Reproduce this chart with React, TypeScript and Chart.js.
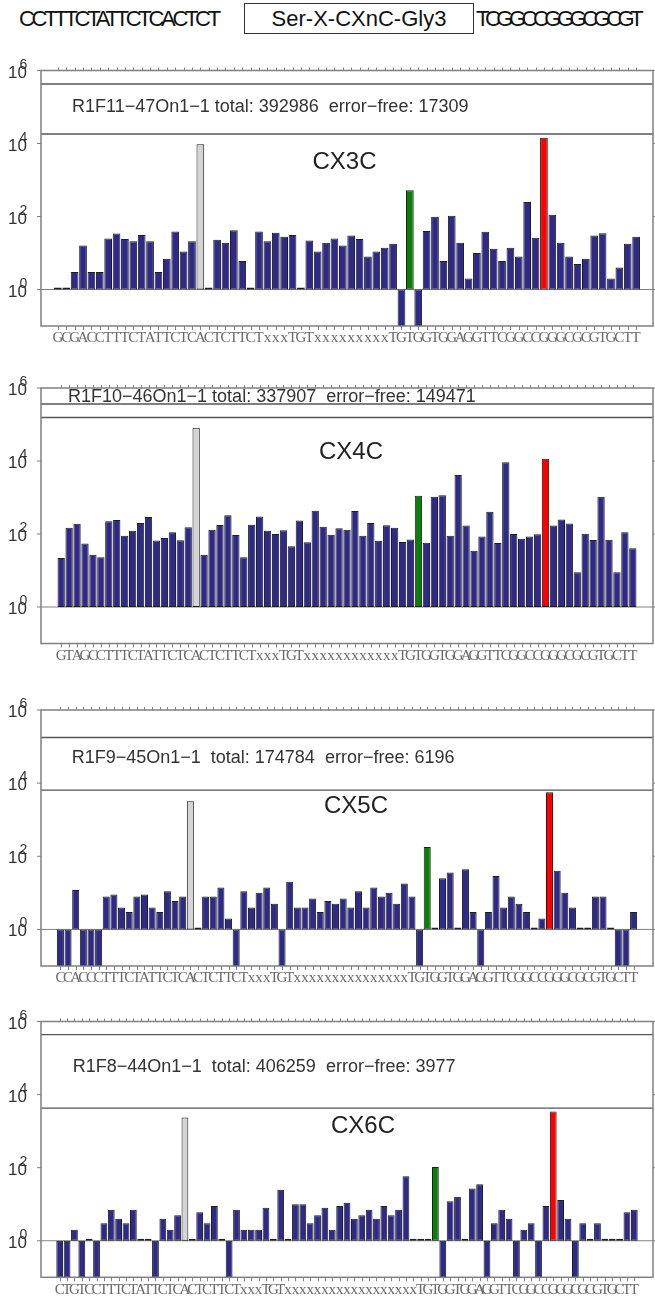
import React, { useEffect, useRef } from 'react';
import { Chart, registerables } from 'chart.js';

Chart.register(...registerables);

// ---------- data ----------
const HEADER_LEFT = 'CCTTTCTATTCTCACTCT';
const HEADER_BOX = 'Ser-X-CXnC-Gly3';
const HEADER_RIGHT = 'TCGGCCGGGCGCGT';

const Y_TICK_EXPONENTS = [0, 2, 4, 6];

const SEQ_CX3C = 'GCGACCTTTCTATTCTCACTCTTCTxxxTGTxxxxxxxxxTGTGGTGGAGGTTCGGCCGGGCGCGTGCTT';
const COUNTS_CX3C = [
  1, 1, 3, 16, 3, 3, 25, 34, 24, 21, 31, 21, 3, 7, 39, 11, 21, 9500, 1, 23,
  19, 42, 6, 1, 39, 21, 36, 28, 31, 1, 22, 11, 19, 25, 16, 30, 24, 8, 11, 14,
  18, 0, 525, 0, 40, 98, 6, 105, 19, 2, 10, 38, 13, 6, 14, 8, 250, 26, 14400, 112,
  19, 8, 5, 7, 30, 35, 2, 4, 18, 28,
];

const SEQ_CX4C = 'GTAGCCTTTCTATTCTCACTCTTCTxxxTGTxxxxxxxxxxxxTGTGGTGGAGGTTCGGCCGGGCGCGTGCTT';
const COUNTS_CX4C = [
  22, 148, 191, 55, 27, 23, 225, 240, 90, 123, 200, 290, 66, 78, 111, 67, 152, 81000, 27, 131,
  176, 324, 94, 23, 180, 302, 123, 100, 126, 46, 235, 59, 433, 158, 96, 143, 131, 426, 90, 200,
  65, 173, 148, 60, 71, 1110, 58, 1045, 1150, 90, 4150, 170, 35, 85, 408, 57, 9200, 100, 74, 85,
  98, 11600, 170, 250, 195, 9, 102, 69, 1045, 70, 9, 111, 41,
];

const SEQ_CX5C = 'CCACCCTTTCTATTCTCACTCTTCTxxxTGTxxxxxxxxxxxxxxxTGTGGTGGAGGTTCGGCCGGGCGCGTGCTT';
const COUNTS_CX5C = [
  0, 0, 12, 0, 0, 0, 8, 9, 4, 3, 8, 9, 4, 3, 11, 6, 8, 3200, 1, 8,
  8, 14, 2, 0, 11, 4, 10, 14, 5, 0, 20, 4, 4, 7, 3, 6, 5, 7, 4, 11,
  4, 14, 8, 10, 5, 18, 8, 0, 180, 1, 25, 36, 1, 44, 3, 0, 3, 29, 4, 8,
  5, 3, 1, 2, 5600, 40, 10, 4, 1, 1, 8, 8, 1, 0, 0, 3,
];

const SEQ_CX6C = 'CTGTCCTTTCTATTCTCACTCTTCTxxxTGTxxxxxxxxxxxxxxxxxxTGTGGTGGAGGTTCGGCCGGGCGCGTGCTT';
const COUNTS_CX6C = [
  0, 0, 2, 0, 1, 0, 3, 7, 4, 3, 7, 1, 1, 0, 4, 2, 5, 2350, 1, 6,
  3, 9, 1, 0, 7, 2, 2, 2, 8, 1, 25, 1, 10, 10, 3, 5, 8, 2, 9, 11,
  4, 5, 7, 4, 9, 5, 7, 58, 1, 1, 1, 104, 0, 12, 16, 1, 27, 35, 0, 3,
  7, 4, 0, 2, 3, 0, 9, 3450, 13, 4, 0, 3, 1, 3, 1, 1, 1, 6, 7,
];

const INFO_TEXTS = [
  'R1F11\u221247On1\u22121 total: 392986  error\u2212free: 17309',
  'R1F10\u221246On1\u22121 total: 337907  error\u2212free: 149471',
  'R1F9\u221245On1\u22121  total: 174784  error\u2212free: 6196',
  'R1F8\u221244On1\u22121  total: 406259  error\u2212free: 3977',
];
const PANEL_NAMES = ['CX3C', 'CX4C', 'CX5C', 'CX6C'];

// ---------- styles / layout ----------
const NAVY = '#2f2a88';
const GRAY = '#d4d4d4';
const GREEN = '#0a800a';
const RED = '#ff0000';
const SANS = '"Liberation Sans", Arial, Helvetica, sans-serif';
const SERIF = '"Liberation Serif", "Times New Roman", serif';

type PanelCfg = {
  name: string; seq: string; counts: number[]; info: string;
  gray: number; green: number; red: number;
  canvasTop: number; canvasBottom: number; areaTop: number; areaBottom: number;
  boxLines: number[]; infoY: number; infoDx: number; labelDx: number; labelY: number;
};

const PANELS: PanelCfg[] = [
  { name: PANEL_NAMES[0], seq: SEQ_CX3C, counts: COUNTS_CX3C, info: INFO_TEXTS[0], gray: 17, green: 42, red: 58,
    canvasTop: 48, canvasBottom: 352, areaTop: 70.5, areaBottom: 326,
    boxLines: [5.63, 4.26], infoY: 4.99, infoDx: 31, labelDx: 303.5, labelY: 3.47 },
  { name: PANEL_NAMES[1], seq: SEQ_CX4C, counts: COUNTS_CX4C, info: INFO_TEXTS[1], gray: 17, green: 45, red: 61,
    canvasTop: 366, canvasBottom: 670, areaTop: 388, areaBottom: 643.5,
    boxLines: [5.56, 5.19], infoY: 5.75, infoDx: 27, labelDx: 310, labelY: 4.25 },
  { name: PANEL_NAMES[2], seq: SEQ_CX5C, counts: COUNTS_CX5C, info: INFO_TEXTS[2], gray: 17, green: 48, red: 64,
    canvasTop: 688, canvasBottom: 992, areaTop: 710, areaBottom: 966,
    boxLines: [5.25, 3.81], infoY: 4.69, infoDx: 30.7, labelDx: 315, labelY: 3.36 },
  { name: PANEL_NAMES[3], seq: SEQ_CX6C, counts: COUNTS_CX6C, info: INFO_TEXTS[3], gray: 17, green: 51, red: 67,
    canvasTop: 999, canvasBottom: 1299, areaTop: 1021.5, areaBottom: 1277.3,
    boxLines: [5.64, 3.63], infoY: 4.76, infoDx: 31.7, labelDx: 322, labelY: 3.14 },
];

function makeDecor(p: PanelCfg) {
  return {
    id: 'decor',
    beforeDatasetsDraw(chart: any) {
      const { ctx, chartArea: a, scales } = chart;
      const y = scales.y;
      ctx.save();
      ctx.strokeStyle = '#808080';
      ctx.lineWidth = 1;
      const y0 = y.getPixelForValue(1);
      ctx.beginPath();
      ctx.moveTo(a.left, y0);
      ctx.lineTo(a.right, y0);
      ctx.stroke();
      ctx.strokeStyle = '#555555';
      ctx.lineWidth = 1.4;
      for (const e of p.boxLines) {
        const py = y.getPixelForValue(Math.pow(10, e));
        ctx.beginPath();
        ctx.moveTo(a.left, py);
        ctx.lineTo(a.right, py);
        ctx.stroke();
      }
      ctx.restore();
    },
    afterDraw(chart: any) {
      const { ctx, chartArea: a, scales } = chart;
      const x = scales.x;
      const y = scales.y;
      const n = p.counts.length;
      ctx.save();
      ctx.strokeStyle = '#808080';
      ctx.lineWidth = 1.5;
      ctx.strokeRect(a.left, a.top, a.right - a.left, a.bottom - a.top);
      ctx.lineWidth = 1;
      ctx.beginPath();
      for (let i = 0; i < n; i++) {
        const px = Math.round(x.getPixelForValue(i)) + 0.5;
        ctx.moveTo(px, a.bottom);
        ctx.lineTo(px, a.bottom + 4);
        ctx.moveTo(px, a.top);
        ctx.lineTo(px, a.top - 3);
      }
      for (const e of Y_TICK_EXPONENTS) {
        const py = y.getPixelForValue(Math.pow(10, e));
        ctx.moveTo(a.left - 4, py);
        ctx.lineTo(a.left, py);
        ctx.moveTo(a.right, py);
        ctx.lineTo(a.right + 4, py);
      }
      ctx.stroke();
      ctx.fillStyle = '#333333';
      ctx.textAlign = 'left';
      ctx.textBaseline = 'alphabetic';
      for (const e of Y_TICK_EXPONENTS) {
        const py = y.getPixelForValue(Math.pow(10, e));
        ctx.font = '17px ' + SANS;
        ctx.fillText('10', 8, py + 7);
        ctx.font = '14px ' + SANS;
        ctx.fillText(String(e), 19.5, py - 2);
      }
      ctx.font = '15px ' + SERIF;
      ctx.textAlign = 'center';
      ctx.textBaseline = 'middle';
      ctx.fillStyle = '#6a6a6a';
      for (let i = 0; i < n; i++) {
        ctx.fillText(p.seq[i], x.getPixelForValue(i), a.bottom + 12.5);
      }
      ctx.fillStyle = '#333333';
      ctx.font = '18px ' + SANS;
      ctx.textAlign = 'left';
      ctx.fillText(p.info, a.left + p.infoDx, y.getPixelForValue(Math.pow(10, p.infoY)));
      ctx.fillStyle = '#222222';
      ctx.font = '24px ' + SANS;
      ctx.textAlign = 'center';
      ctx.fillText(p.name, a.left + p.labelDx, y.getPixelForValue(Math.pow(10, p.labelY)));
      ctx.restore();
    },
  };
}

function Panel({ p }: { p: PanelCfg }) {
  const ref = useRef<HTMLCanvasElement>(null);
  const H = p.canvasBottom - p.canvasTop;
  useEffect(() => {
    const n = p.counts.length;
    const chart = new Chart(ref.current as HTMLCanvasElement, {
      type: 'bar',
      data: {
        datasets: [
          {
            label: p.name,
            data: p.counts.map((v, i) => ({ x: i, y: v === 0 ? [1, 0.1] : [1, Math.max(v, 1.13)] })) as any,
            backgroundColor: p.counts.map((_, i) =>
              i === p.gray ? GRAY : i === p.green ? GREEN : i === p.red ? RED : NAVY),
            borderColor: '#1e1e1e',
            borderWidth: 1,
            borderSkipped: false,
            barPercentage: 0.92,
            categoryPercentage: 1,
          } as any,
        ],
      },
      options: {
        responsive: false,
        maintainAspectRatio: false,
        animation: false,
        devicePixelRatio: 1,
        layout: {
          padding: { left: 41, right: 2, top: p.areaTop - p.canvasTop, bottom: p.canvasBottom - p.areaBottom },
        },
        scales: {
          x: { type: 'linear', min: -1, max: n, display: false, ticks: { stepSize: 1 } },
          y: { type: 'logarithmic', min: 0.1, max: 1e6, display: false },
        },
        plugins: { legend: { display: false }, tooltip: { enabled: false } },
      } as any,
      plugins: [makeDecor(p)],
    });
    return () => chart.destroy();
  }, []);
  return (
    <canvas
      ref={ref}
      width={655}
      height={H}
      style={{ position: 'absolute', left: 0, top: p.canvasTop, width: 655, height: H }}
    />
  );
}

export default function App() {
  const seqStyle: React.CSSProperties = {
    position: 'absolute', top: 8, fontFamily: SANS, fontSize: 22, lineHeight: '22px',
    color: '#111', whiteSpace: 'nowrap',
  };
  return (
    <div style={{ position: 'absolute', left: 0, top: 0, width: 655, height: 1299, background: '#fff', overflow: 'hidden' }}>
      <div style={{ ...seqStyle, left: 19, letterSpacing: '-3.3px' }}>{HEADER_LEFT}</div>
      <div
        style={{
          position: 'absolute', left: 244, top: 3, width: 230, height: 31, boxSizing: 'border-box',
          border: '1.5px solid #333', display: 'flex', alignItems: 'center', justifyContent: 'center',
          fontFamily: SANS, fontSize: 22, color: '#111', whiteSpace: 'nowrap',
        }}
      >
        {HEADER_BOX}
      </div>
      <div style={{ ...seqStyle, left: 476, letterSpacing: '-4.5px' }}>{HEADER_RIGHT}</div>
      {PANELS.map((p) => (
        <Panel key={p.name} p={p} />
      ))}
    </div>
  );
}
